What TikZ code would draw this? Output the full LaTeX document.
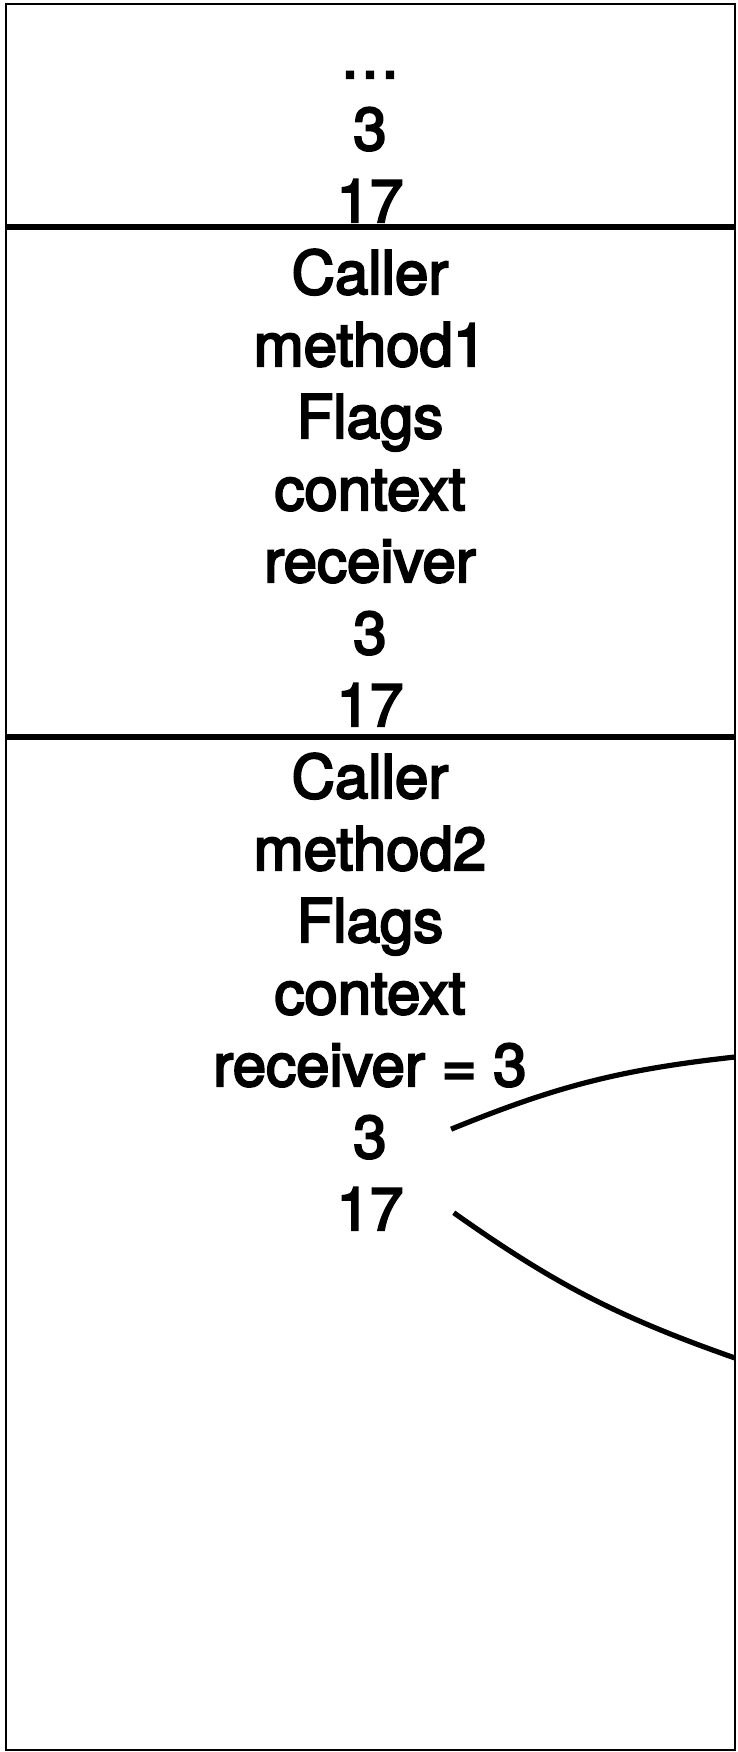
\documentclass[tikz,border=0pt]{standalone}
\usepackage{fontspec}
\setmainfont{TeX Gyre Heros}
\newfontfamily\stackfont{TeX Gyre Heros}[FakeBold=3.5]

\begin{document}
\begin{tikzpicture}[x=0.5pt,y=-0.5pt,
  slot/.style={anchor=base,inner sep=0pt,font=\fontsize{30}{36}\stackfont},
  frame/.style={draw,line width=1.3pt},
  split/.style={line width=2.8pt},
  link/.style={line width=2.6pt}]
\useasboundingbox (0,0) rectangle (738,1752);
% stack, top to bottom: rest, frame of method1, frame of method2
\draw[frame] (6,4) rectangle (735,1750);
\draw[split] (6,227) -- (735,227);
\draw[split] (6,737) -- (735,737);
\foreach \t [count=\i from 0] in {\ldots,3,17,Caller,method1,Flags,context,
    receiver,3,17,Caller,method2,Flags,context,receiver = 3,3,17}{
  \node[slot] (l\i) at (370,78+72*\i) {\t};
}
\coordinate (r1) at (735,1057);
\coordinate (r2) at (735,1358);
\draw[link] ([xshift=32pt,yshift=4pt]l15.east) to[bend left=8] (r1);
\draw[link] ([xshift=25pt,yshift=-2pt]l16.east) to[bend right=8] (r2);
\end{tikzpicture}
\end{document}
